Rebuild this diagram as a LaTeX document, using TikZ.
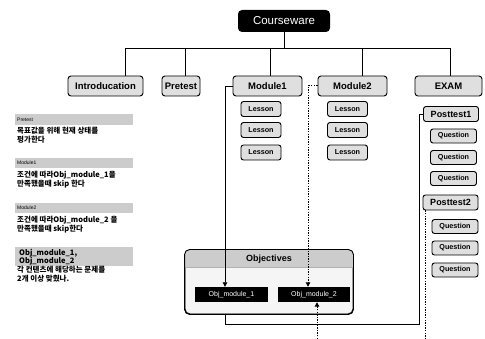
\documentclass[tikz,border=0pt]{standalone}
\usepackage{fontspec}
\setmainfont{Liberation Sans}
\newfontfamily\kr{Noto Sans CJK KR}
\usetikzlibrary{arrows.meta,calc}
\begin{document}
\begin{tikzpicture}[x=1pt,y=-1pt,
 lvl/.style={draw=black,line width=0.9pt,rounded corners=3pt,fill=gray!25,inner sep=0pt,minimum height=20pt,font=\bfseries\fontsize{9.5}{10}\selectfont},
 les/.style={draw=black,line width=0.9pt,rounded corners=2.5pt,fill=gray!25,inner sep=0pt,minimum width=40pt,minimum height=15pt,font=\bfseries\fontsize{7.2}{7.5}\selectfont},
 que/.style={les,minimum width=46pt,minimum height=14pt},
 ptest/.style={les,minimum width=55pt,minimum height=15pt,font=\bfseries\fontsize{9}{9}\selectfont},
 objbox/.style={fill=black,text=white,inner sep=0pt,minimum width=72pt,minimum height=15pt,font=\fontsize{7}{7}\selectfont},
 conn/.style={line width=0.8pt},
 dconn/.style={line width=1pt,dash pattern=on 1.3pt off 1.3pt},
 arr/.style={-{Triangle[length=4.5pt,width=4.5pt]}},
 note/.style={anchor=west,inner sep=0pt,font=\kr\bfseries\fontsize{7.5}{8}\selectfont},
 notehead/.style={anchor=west,inner sep=0pt,font=\fontsize{5}{5}\selectfont},
 bar/.style={fill=gray!40,draw=none}
]
\useasboundingbox (0,0) rectangle (485,339);

% top
\node[fill=black,text=white,rounded corners=4pt,minimum width=92pt,minimum height=22pt,inner sep=0pt,font=\fontsize{11.5}{12}\selectfont] (cw) at (284,21) {Courseware};

% level 2
\node[lvl,minimum width=75pt] (intro) at (105.5,86) {Introducation};
\node[lvl,minimum width=38pt] (pre) at (181,86) {Pretest};
\node[lvl,minimum width=69pt] (m1) at (267.5,86) {Module1};
\node[lvl,minimum width=69pt] (m2) at (352.5,86) {Module2};
\node[lvl,minimum width=67pt] (exam) at (448.5,86) {EXAM};

\coordinate (bus) at (284,48);
\draw[conn] (cw.south) -- (bus);
\draw[conn] (bus) -| ([xshift=19.5pt]intro.north);
\draw[conn] (bus) -| ([xshift=4pt]pre.north);
\draw[conn] (bus) -| ([xshift=2.5pt]m1.north);
\draw[conn] (bus) -| ([xshift=9.5pt]m2.north);
\draw[conn] (bus) -| ([xshift=1.5pt]exam.north);

% lessons
\node[les] (l11) at (261,109) {Lesson};
\node[les] (l12) at (261,130) {Lesson};
\node[les] (l13) at (261,152.5) {Lesson};
\node[les] (l21) at (347.5,109) {Lesson};
\node[les] (l22) at (347.5,130) {Lesson};
\node[les] (l23) at (347.5,152.5) {Lesson};

% exam
\node[ptest] (pt1) at (451,114) {Posttest1};
\node[que] (q11) at (453.5,136) {Question};
\node[que] (q12) at (453.5,157.5) {Question};
\node[que] (q13) at (453.5,178.5) {Question};
\node[ptest] (pt2) at (450.5,202.5) {Posttest2};
\node[que] (q21) at (455,226.5) {Question};
\node[que] (q22) at (455,248) {Question};
\node[que] (q23) at (455,270) {Question};

% objectives
\node[draw=black,line width=0.9pt,rounded corners=5pt,fill=gray!8,minimum width=168pt,minimum height=64pt,inner sep=0pt] (obox) at (269,282) {};
\begin{scope}
\clip[rounded corners=5pt] (obox.north west) rectangle (obox.south east);
\fill[gray!40] (obox.north west) rectangle ($(obox.north east)+(0,18)$);
\end{scope}
\draw[line width=0.6pt,gray!60] ($(obox.north west)+(0,18)$) -- ($(obox.north east)+(0,18)$);
\draw[line width=0.9pt,rounded corners=5pt] (obox.north west) rectangle (obox.south east);
\node[inner sep=0pt,font=\bfseries\fontsize{9}{9}\selectfont] (objt) at (269,259) {Objectives};
\node[objbox,minimum width=73pt] (obj1) at (231.5,294.5) {Obj\_module\_1};
\node[objbox] (obj2) at (314,294.5) {Obj\_module\_2};

% connectors
\coordinate (x1) at ([xshift=-6.5pt]obj1.north);
\draw[conn,arr] (m1.west) -| (x1);
\draw[dconn,arr] (m2.west) -| ([xshift=-6pt]obj2.north);
\coordinate (bot2) at (317,339);
\draw[dconn,arr] (bot2) -- (bot2 |- obj2.south);
\coordinate (c1) at (419,324);
\draw[conn] (pt1.west) -| (c1) -| (x1 |- obox.south);
\coordinate (p2s) at ([xshift=3pt]pt2.south west);
\coordinate (bot3) at (426,339);
\draw[dconn] (p2s) -- (p2s |- bot3);

% notes
\fill[bar] (15,114) rectangle (133,125);
\node[notehead] (h1) at (17,119.5) {Pretest};
\node[note] (n11) at (17,131) {목표값을 위해 현재 상태를};
\node[note] (n12) at (17,140) {평가한다};

\fill[bar] (15,158) rectangle (133,168);
\node[notehead] (h2) at (17,163) {Module1};
\node[note] (n21) at (17,175) {조건에 따라Obj\_module\_1을};
\node[note] (n22) at (17,184) {만족했을때 skip 한다};

\fill[bar] (15,203) rectangle (133,213);
\node[notehead] (h3) at (17,208) {Module2};
\node[note] (n31) at (17,220) {조건에 따라Obj\_module\_2 을};
\node[note] (n32) at (17,229) {만족했을때 skip한다};

\fill[bar] (15,247) rectangle (133,266);
\node[note] (n41) at (19,253) {Obj\_module\_1,};
\node[note] (n42) at (19,261) {Obj\_module\_2};
\node[note] (n43) at (17,270) {각 컨텐츠에 해당하는 문제를};
\node[note] (n44) at (17,279) {2개 이상 맞췄나.};
\end{tikzpicture}
\end{document}
